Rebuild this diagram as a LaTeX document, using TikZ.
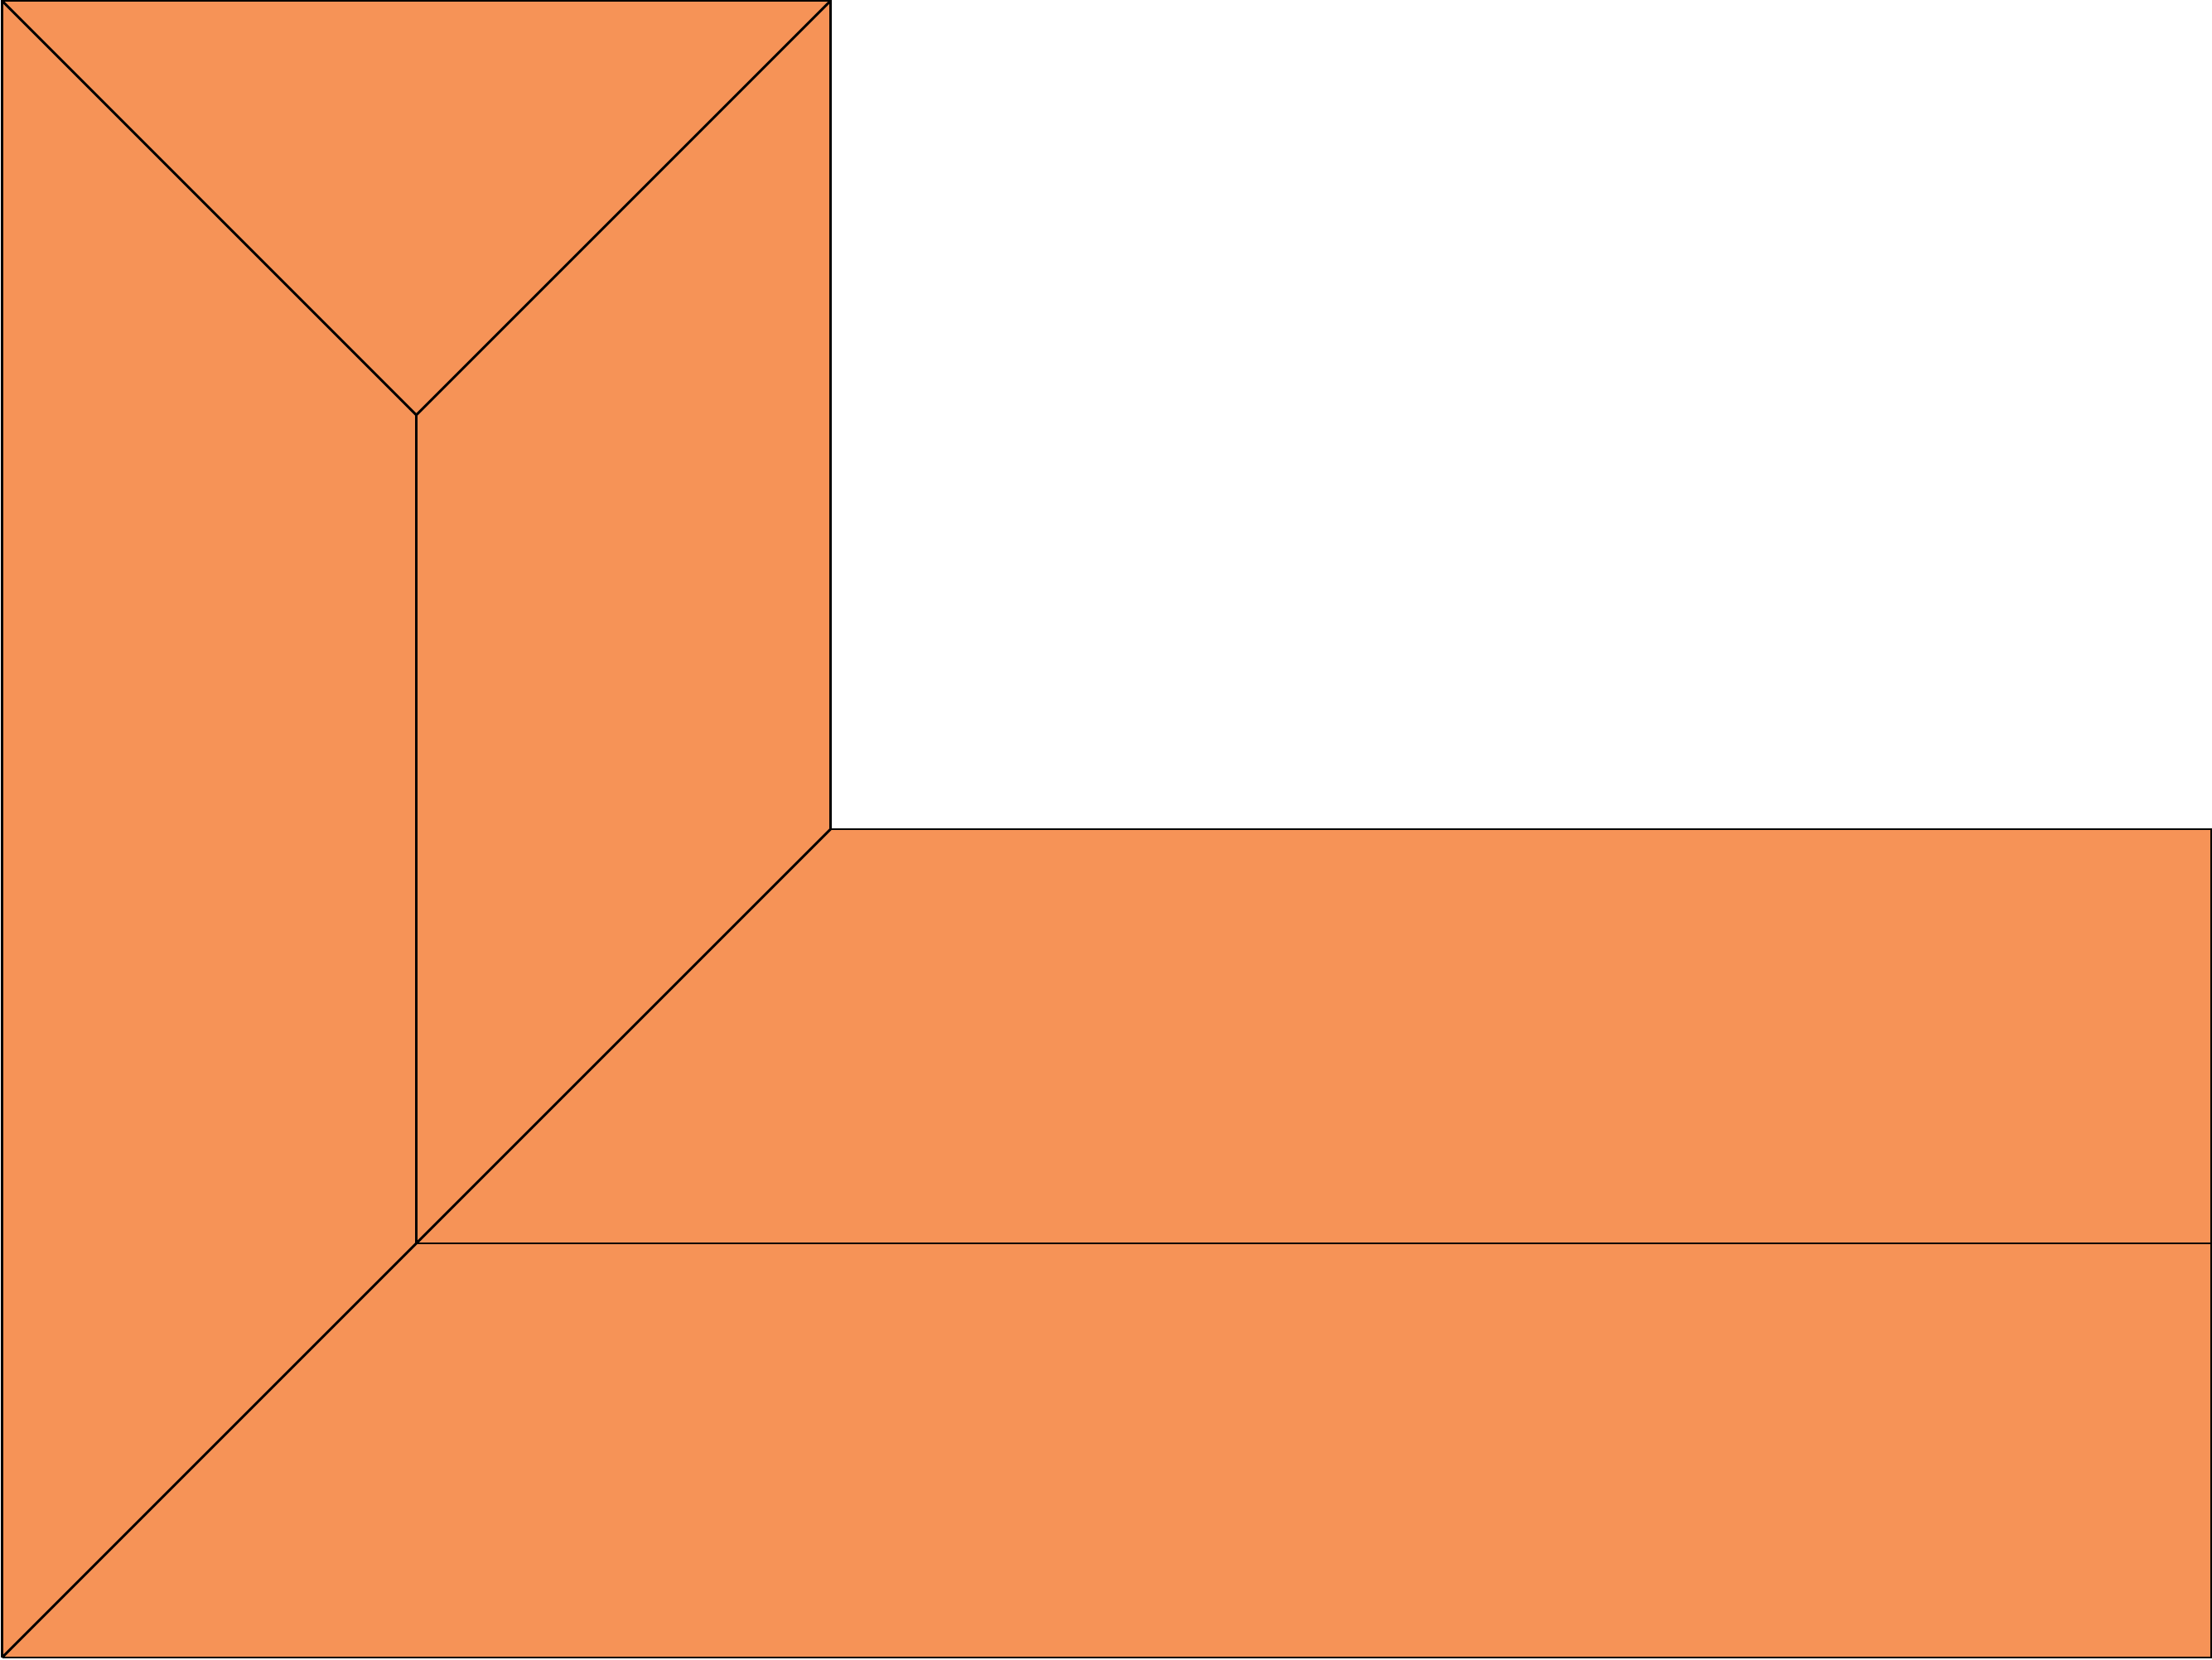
\documentclass[tikz,border=0pt]{standalone}
\definecolor{tileorange}{RGB}{246,147,87}
\begin{document}
\begin{tikzpicture}[x=3cm, y=3cm, line width=0.5pt]
                    \useasboundingbox (-0.005, -0.004) rectangle (5.335, 4.002);

                    \coordinate (tl) at (0, 4);
                    \coordinate (tr) at (2, 4);
                    \coordinate (bl) at (0, 0);
                    \coordinate (br) at (16/3, 0);
                    \coordinate (er) at (16/3, 2);
                    \coordinate (ic) at (2, 2);
                    \coordinate (mr) at (16/3, 1);
                    \coordinate (yt) at (1, 3);
                    \coordinate (yb) at (1, 1);

                    \fill[tileorange] (bl) -- (br) -- (er) -- (ic) -- (tr) -- (tl) -- cycle;

                    \draw (bl) -- (br) -- (er) -- (ic) -- (tr) -- (tl) -- (bl);

                    \draw (tl) -- (yt) -- (tr);
                    \draw (yt) -- (yb);
                    \draw (bl) -- (ic);
                    \draw (yb) -- (mr);
                \end{tikzpicture}
\end{document}
